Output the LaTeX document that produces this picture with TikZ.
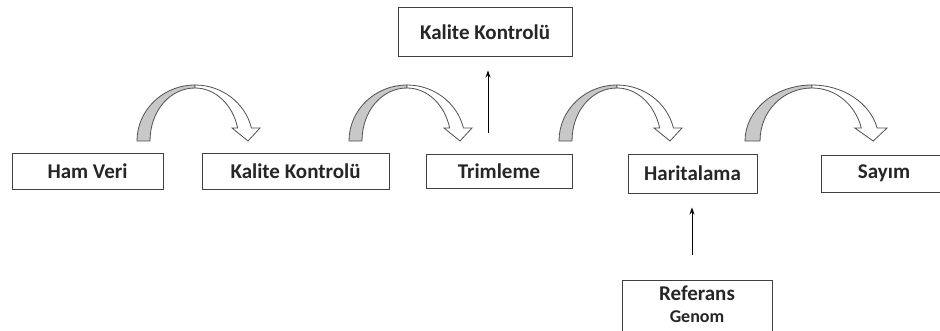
\documentclass[tikz,border=0pt]{standalone}
\usepackage{fontspec}
\setmainfont{Carlito}
\usetikzlibrary{arrows.meta}
\definecolor{boxline}{HTML}{404040}
\definecolor{crescent}{HTML}{C8C8C8}
\definecolor{arrowline}{HTML}{505050}
\tikzset{
  box/.style={draw=boxline, line width=1pt, fill=white, inner sep=0pt,
    font=\bfseries\fontsize{21}{25}\selectfont, text=black!85},
  lbl/.style={inner sep=0pt, text=black!85},
  thinarrow/.style={line width=1pt, -{Stealth[length=7pt,width=5pt]}},
  curvearrow/.pic={
    \filldraw[fill=crescent, draw=arrowline, line width=0.8pt]
      (-58,0) arc[start angle=180, end angle=90, x radius=58, y radius=56]
      -- (0,53) .. controls (-25,53) and (-45,30) .. (-45,0) -- cycle;
    \filldraw[fill=white, draw=arrowline, line width=0.8pt, line join=miter]
      (0,56) arc[start angle=90, end angle=13.4, x radius=58, y radius=56]
      -- (65,13) -- (53,0) -- (37,13) -- (42.65,13)
      arc[start angle=14.2, end angle=90, x radius=44, y radius=53] -- cycle;
  }
}
\begin{document}
\begin{tikzpicture}[x=1pt, y=1pt]
\clip (0,0) rectangle (940,330);
\fill[white] (0,0) rectangle (940,330);
% boxes
\node[box, minimum width=151, minimum height=36] (ham) at (87.5,159) {Ham Veri};
\node[box, minimum width=187, minimum height=36] (kk1) at (295.5,159) {Kalite Kontrolü};
\node[box, minimum width=146, minimum height=34] (trim) at (499,159) {Trimleme};
\node[box, minimum width=174, minimum height=49] (kk2) at (485,297.5) {Kalite Kontrolü};
\node[box, minimum width=129, minimum height=39] (har) at (692.5,156.5) {Haritalama};
\node[box, minimum width=126, minimum height=37] (say) at (884,156.5) {Sayım};
\node[box, minimum width=150, minimum height=60, anchor=north] (ref) at (697,50) {};
\node[lbl, font=\bfseries\fontsize{21}{25}\selectfont] (reft1) at (697,37) {Referans};
\node[lbl, font=\bfseries\fontsize{18}{22}\selectfont] (reft2) at (697,13) {Genom};
% curved block arrows
\pic (ca1) at (195,189) {curvearrow};
\pic (ca2) at (407,189) {curvearrow};
\pic (ca3) at (617,189) {curvearrow};
\pic[xscale=1.155] (ca4) at (812,189) {curvearrow};
% thin arrows
\draw[thinarrow, shorten <=21pt, shorten >=13pt]
  ([xshift=-11pt]trim.north) -- ([xshift=-11pt]trim.north |- kk2.south);
\draw[thinarrow, shorten <=25pt, shorten >=14pt]
  ([xshift=-5pt]ref.north) -- ([xshift=-5pt]ref.north |- har.south);
\end{tikzpicture}
\end{document}
